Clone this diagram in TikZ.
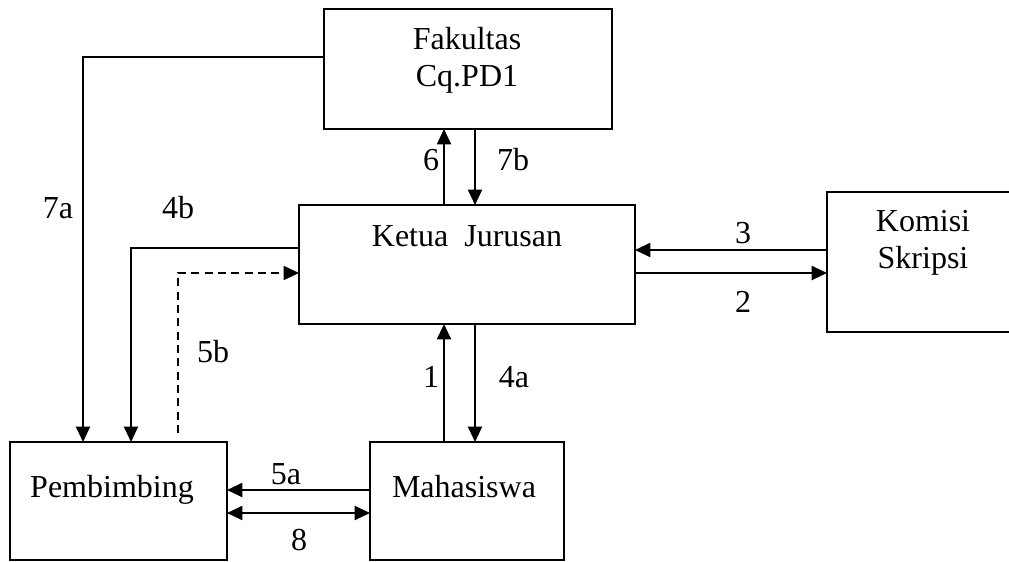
\documentclass[tikz,border=0pt]{standalone}
\usepackage{fontspec}
\setmainfont{Liberation Serif}
\usepackage{tikz}
\usetikzlibrary{arrows.meta,calc}
\newcommand*\boxline{1pt}
\newcommand*\flowline{1.5pt}
\tikzset{
    unit/.style   = {x=0.75pt, y=-0.75pt},
    block/.style  = {draw, line width=\boxline, inner sep=0pt, outer sep=0pt,
                    anchor=north west},
    blocktext/.style = {font=\fontsize{24}{27.75}\selectfont, inner sep=0pt,
                    align=center},
    flow/.style   = {line width=\flowline,
                    -{Triangle[length=11.5pt,width=10.5pt]}},
    twoflow/.style= {line width=\flowline,
                    {Triangle[length=11.5pt,width=10.5pt]}-{Triangle[length=11.5pt,width=10.5pt]}},
    softflow/.style = {flow, line width=1.2pt, dash pattern=on 6pt off 4pt},
    steplabel/.style = {font=\fontsize{24}{27.75}\selectfont, inner sep=0pt},
  }
\begin{document}
\begin{tikzpicture}[unit]
        \useasboundingbox (0,0) rectangle (1009,561);

        % Boxes, placed by their north west corners
        \node[block, minimum width=216pt, minimum height=90pt]    (fak)    at (324,9)   {};
        \node[block, minimum width=252pt, minimum height=89.25pt] (ketua)  at (299,205) {};
        \node[block, minimum width=144pt, minimum height=105pt]   (komisi) at (827,192) {};
        \node[block, minimum width=162.75pt, minimum height=88.5pt] (pemb) at (10,442)  {};
        \node[block, minimum width=145.5pt, minimum height=88.5pt]  (maha) at (370,442) {};

        % Texts of the boxes
        \node[blocktext, anchor=north] (faktext)    at (467,27)  {Fakultas\\Cq.PD1};
        \node[blocktext, anchor=base]  (ketuatext)  at (467,246) {Ketua\ \ Jurusan};
        \node[blocktext, anchor=north] (komisitext) at (923,210) {Komisi\\Skripsi};
        \node[blocktext, anchor=base]  (pembtext)   at (112,497) {Pembimbing};
        \node[blocktext, anchor=base]  (mahatext)   at (464,497) {Mahasiswa};

        % Fakultas and Ketua Jurusan
        \coordinate (c6)  at ($(ketua.north west)+(145,0)$);
        \coordinate (c7b) at ($(ketua.north west)+(176,0)$);
        \draw[flow] (c6) -- (c6 |- fak.south);
        \draw[flow] (c7b |- fak.south) -- (c7b);

        % Ketua Jurusan and Mahasiswa
        \coordinate (c1)  at ($(maha.north west)+(74,0)$);
        \coordinate (c4a) at ($(maha.north west)+(105,0)$);
        \draw[flow] (c1) -- (c1 |- ketua.south);
        \draw[flow] (c4a |- ketua.south) -- (c4a);

        % Ketua Jurusan and Komisi Skripsi
        \coordinate (c3) at ($(komisi.north west)+(0,58)$);
        \coordinate (c2) at ($(komisi.north west)+(0,81)$);
        \draw[flow] (c3) -- (c3 -| ketua.east);
        \draw[flow] (c2 -| ketua.east) -- (c2);

        % Lines down to Pembimbing
        \draw[flow] ($(fak.north west)+(0,48)$) -| ($(pemb.north west)+(73,0)$);
        \draw[flow] ($(ketua.north west)+(0,43)$) -| ($(pemb.north west)+(121,0)$);
        \draw[softflow] ($(pemb.north west)+(168,-9)$) |- ($(ketua.north west)+(0,68)$);

        % Mahasiswa and Pembimbing
        \coordinate (c5a) at ($(maha.north west)+(0,48)$);
        \coordinate (c8)  at ($(maha.north west)+(0,71)$);
        \draw[flow] (c5a) -- (c5a -| pemb.east);
        \draw[twoflow] (c8 -| pemb.east) -- (c8);

        % Step numbers
        \node[steplabel] (l6)  at (431,160) {6};
        \node[steplabel] (l7b) at (513,160) {7b};
        \node[steplabel] (l7a) at (58,208)  {7a};
        \node[steplabel] (l4b) at (178,208) {4b};
        \node[steplabel] (l5b) at (213,352) {5b};
        \node[steplabel] (l1)  at (431,377) {1};
        \node[steplabel] (l4a) at (514,377) {4a};
        \node[steplabel] (l3)  at (743,233) {3};
        \node[steplabel] (l2)  at (743,302) {2};
        \node[steplabel] (l5a) at (286,474) {5a};
        \node[steplabel] (l8)  at (299,540) {8};
    \end{tikzpicture}
\end{document}
